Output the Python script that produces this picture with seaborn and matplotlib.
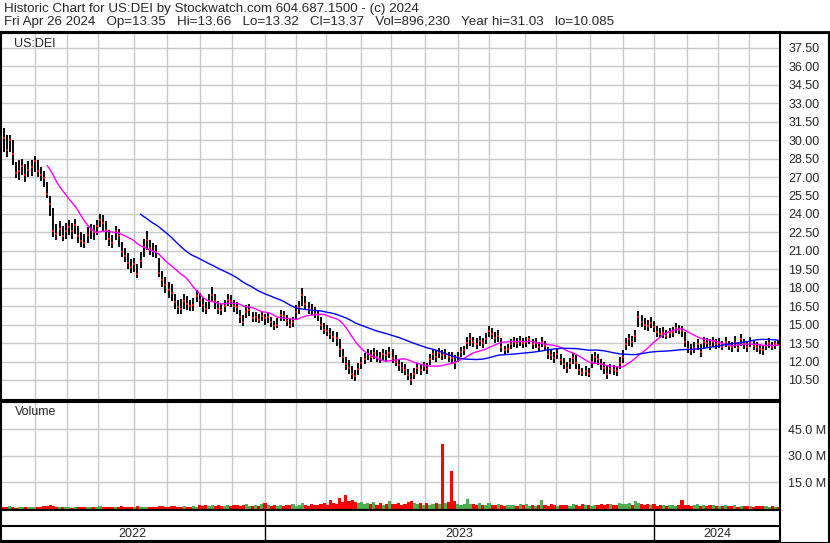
import numpy as np
import pandas as pd
import matplotlib
matplotlib.use('Agg')
import matplotlib.pyplot as plt
import matplotlib.patches as mpatches
import seaborn as sns

# one bar per two trading sessions, May 2022 -> Apr 26 2024
close = [30.2, 29.2, 30.0, 28.9, 27.3, 27.5, 27.9, 27.2, 27.6, 27.8,
         28.3, 27.5, 27.2, 26.9, 25.6, 24.8, 22.6, 22.4, 22.8, 22.2,
         22.6, 22.9, 22.6, 23.1, 22.2, 21.8, 21.6, 22.3, 22.7, 22.5,
         23.0, 23.5, 23.3, 22.7, 22.0, 21.6, 22.6, 22.2, 20.9, 20.6,
         20.0, 19.7, 19.9, 19.1, 20.2, 21.3, 21.9, 21.2, 21.0, 20.9,
         19.2, 18.6, 18.2, 17.8, 17.6, 16.8, 16.4, 16.3, 16.9, 16.7,
         16.5, 16.6, 17.3, 17.0, 16.6, 16.3, 16.9, 17.4, 16.9, 16.3,
         16.2, 16.5, 17.0, 16.9, 16.5, 16.4, 15.6, 15.2, 16.0, 16.2,
         15.5, 15.6, 15.4, 15.7, 15.5, 15.6, 15.2, 14.9, 15.0, 15.8,
         15.7, 15.3, 15.0, 15.2, 16.0, 16.4, 17.4, 16.7, 16.3, 16.2,
         15.9, 15.8, 15.0, 14.6, 14.5, 14.2, 14.0, 13.9, 13.0, 12.4,
         11.8, 11.5, 11.0, 10.8, 11.4, 11.9, 12.2, 12.6, 12.4, 12.7,
         12.4, 12.3, 12.6, 12.5, 12.7, 12.3, 12.0, 11.7, 11.5, 11.3,
         10.9, 10.5, 11.0, 11.5, 11.3, 11.6, 11.4, 12.2, 12.6, 12.4,
         12.7, 12.5, 12.6, 12.4, 12.3, 11.9, 12.4, 12.8, 12.9, 13.5,
         13.8, 13.6, 13.4, 13.7, 13.5, 13.8, 14.5, 14.2, 13.9, 14.1,
         13.2, 12.9, 13.0, 13.4, 13.6, 13.5, 13.7, 13.5, 13.6, 13.8,
         13.4, 13.5, 13.2, 13.6, 13.3, 12.6, 12.5, 12.3, 12.6, 12.1,
         11.8, 11.5, 11.9, 12.3, 11.9, 11.3, 11.1, 11.2, 11.0, 12.0,
         12.4, 12.2, 11.8, 11.5, 11.0, 11.4, 11.3, 11.2, 11.9, 12.4,
         13.4, 13.8, 13.6, 14.1, 15.6, 15.2, 15.0, 14.9, 15.1, 14.8,
         14.4, 14.2, 14.3, 14.1, 14.3, 14.4, 14.7, 14.6, 14.5, 13.6,
         13.0, 12.9, 13.1, 13.4, 12.8, 13.6, 13.5, 13.3, 13.6, 13.4,
         13.5, 13.2, 13.6, 13.3, 13.2, 13.5, 13.1, 13.8, 13.4, 13.2,
         13.6, 13.3, 13.2, 13.0, 12.9, 13.3, 13.5, 13.2, 13.4, 13.37]

high = [31.0, 30.4, 30.4, 30.0, 28.2, 28.4, 28.5, 28.1, 28.3, 28.4,
        28.7, 28.4, 27.8, 27.5, 26.6, 25.5, 24.5, 23.2, 23.4, 23.0,
        23.3, 23.5, 23.3, 23.6, 23.0, 22.5, 22.4, 22.9, 23.2, 23.1,
        23.5, 24.0, 23.9, 23.4, 22.7, 22.3, 23.0, 22.8, 21.7, 21.2,
        20.8, 20.3, 20.4, 19.9, 20.9, 22.0, 22.6, 21.9, 21.6, 21.5,
        20.4, 19.4, 18.9, 18.5, 18.3, 17.5, 17.0, 17.1, 17.5, 17.3,
        17.0, 17.2, 17.8, 17.6, 17.2, 16.8, 17.5, 18.1, 17.5, 16.9,
        16.7, 17.0, 17.5, 17.4, 17.0, 16.8, 16.2, 15.8, 16.6, 16.7,
        16.0, 16.0, 15.9, 16.1, 15.9, 16.0, 15.6, 15.3, 15.5, 16.2,
        16.1, 15.8, 15.5, 15.6, 16.6, 16.9, 18.0, 17.3, 16.8, 16.7,
        16.4, 16.2, 15.6, 15.1, 15.0, 14.7, 14.5, 14.4, 13.8, 13.0,
        12.4, 12.1, 11.6, 11.3, 11.9, 12.4, 12.7, 13.0, 12.9, 13.1,
        12.9, 12.8, 13.0, 12.9, 13.2, 13.0, 12.5, 12.1, 12.0, 11.8,
        11.4, 11.1, 11.5, 11.9, 11.8, 12.0, 11.9, 12.6, 12.9, 12.9,
        13.1, 12.9, 13.0, 12.8, 12.8, 12.5, 12.8, 13.2, 13.3, 14.0,
        14.3, 14.0, 13.9, 14.1, 13.9, 14.3, 14.9, 14.7, 14.4, 14.6,
        13.9, 13.3, 13.4, 13.8, 14.0, 13.9, 14.1, 13.9, 14.0, 14.1,
        13.8, 13.9, 13.6, 14.0, 13.7, 13.2, 12.9, 12.8, 13.0, 12.6,
        12.3, 12.0, 12.3, 12.7, 12.5, 11.8, 11.5, 11.6, 11.5, 12.6,
        12.8, 12.6, 12.2, 12.0, 11.6, 11.8, 11.7, 11.6, 12.4, 12.9,
        13.9, 14.2, 14.1, 14.6, 16.1, 15.8, 15.5, 15.4, 15.6, 15.3,
        14.9, 14.7, 14.8, 14.6, 14.7, 14.8, 15.1, 15.0, 14.9, 14.4,
        13.7, 13.4, 13.6, 13.8, 13.4, 14.0, 13.9, 13.8, 14.0, 13.8,
        13.9, 13.7, 14.0, 13.7, 13.6, 14.1, 13.6, 14.2, 13.8, 13.7,
        14.0, 13.7, 13.6, 13.4, 13.3, 13.7, 13.9, 13.6, 13.7, 13.66]

low = [29.0, 28.6, 29.0, 28.0, 26.9, 26.8, 27.2, 26.6, 27.0, 27.1,
       27.4, 27.0, 26.7, 26.2, 25.3, 23.8, 22.1, 21.9, 22.2, 21.8,
       22.0, 22.3, 22.0, 22.4, 21.6, 21.3, 21.2, 21.6, 22.0, 21.9,
       22.3, 22.9, 22.6, 21.9, 21.4, 21.2, 21.9, 21.3, 20.5, 20.1,
       19.5, 19.2, 19.3, 18.8, 19.6, 20.5, 21.1, 20.7, 20.5, 20.4,
       18.9, 18.1, 17.6, 17.2, 16.9, 16.3, 15.9, 15.9, 16.3, 16.2,
       16.1, 16.1, 16.8, 16.4, 16.0, 15.9, 16.3, 16.9, 16.3, 15.9,
       15.8, 16.0, 16.5, 16.4, 16.0, 15.9, 15.1, 14.9, 15.5, 15.7,
       15.2, 15.2, 15.1, 15.3, 15.0, 15.1, 14.8, 14.6, 14.7, 15.3,
       15.3, 14.9, 14.7, 14.8, 15.4, 15.9, 16.5, 16.2, 15.9, 15.8,
       15.5, 15.3, 14.6, 14.2, 14.1, 13.8, 13.6, 13.3, 12.4, 11.9,
       11.3, 11.0, 10.6, 10.4, 10.9, 11.4, 11.8, 12.1, 12.0, 12.2,
       12.0, 11.9, 12.1, 12.0, 12.3, 11.9, 11.6, 11.2, 11.1, 10.9,
       10.5, 10.1, 10.6, 11.0, 10.9, 11.2, 11.0, 11.7, 12.1, 12.0,
       12.3, 12.1, 12.2, 12.0, 11.8, 11.4, 12.0, 12.4, 12.5, 13.0,
       13.3, 13.2, 13.0, 13.3, 13.1, 13.4, 14.0, 13.8, 13.5, 13.6,
       12.8, 12.6, 12.7, 13.0, 13.2, 13.1, 13.3, 13.1, 13.2, 13.4,
       13.0, 13.1, 12.8, 13.2, 12.9, 12.2, 12.1, 11.9, 12.2, 11.7,
       11.4, 11.1, 11.4, 11.8, 11.4, 10.9, 10.8, 10.8, 10.7, 11.5,
       11.9, 11.7, 11.3, 11.0, 10.6, 11.0, 10.9, 10.8, 11.4, 11.9,
       12.9, 13.3, 13.2, 13.6, 14.8, 14.8, 14.6, 14.5, 14.7, 14.4,
       14.0, 13.9, 13.9, 13.8, 13.9, 14.0, 14.3, 14.2, 14.0, 13.2,
       12.7, 12.5, 12.7, 12.9, 12.4, 13.1, 13.1, 12.9, 13.2, 13.0,
       13.1, 12.9, 13.2, 12.9, 12.8, 13.1, 12.8, 13.3, 13.0, 12.8,
       13.2, 12.9, 12.8, 12.6, 12.5, 12.9, 13.1, 12.9, 13.0, 13.32]

volume_m = [1.2, 0.9, 1.5, 1.1, 0.8, 1.3, 1.0, 0.9, 1.4, 1.1,
            0.9, 1.2, 1.0, 1.5, 1.8, 2.4, 1.9, 1.3, 1.1, 1.0,
            0.9, 1.2, 0.8, 1.0, 1.3, 1.1, 0.9, 1.2, 1.0, 1.4,
            1.1, 1.5, 1.2, 0.9, 1.3, 1.0, 1.2, 0.9, 1.6, 1.4,
            1.2, 1.0, 1.3, 1.5, 1.1, 1.2, 1.0, 1.4, 1.1, 1.3,
            1.9, 1.6, 1.4, 1.2, 1.5, 1.8, 1.3, 1.2, 1.7, 1.4,
            1.2, 1.5, 1.3, 2.0, 1.6, 2.3, 1.8, 2.5, 1.9, 2.1,
            1.6, 1.9, 2.2, 1.7, 2.0, 2.4, 1.8, 2.1, 2.6, 1.5,
            1.8, 2.2, 1.6, 2.9, 3.4, 2.0, 1.7, 2.3, 1.9, 2.2,
            1.8, 2.4, 2.1, 2.8, 1.9, 2.5, 3.2, 2.2, 1.9, 2.6,
            2.3, 2.0, 2.7, 3.1, 2.5, 4.8, 3.5, 3.0, 6.2, 4.1,
            7.6, 4.5, 5.1, 4.0, 3.6, 3.9, 2.8, 3.4, 2.6, 3.8,
            2.5, 3.1, 2.4, 2.9, 4.3, 3.0, 2.6, 3.5, 2.2, 2.8,
            3.9, 4.4, 3.2, 2.7, 3.6, 2.5, 3.3, 2.4, 2.9, 3.4,
            2.8, 36.6, 3.1, 4.2, 21.2, 4.6, 2.7, 2.2, 3.0, 5.9,
            2.6, 2.9, 2.3, 3.4, 2.1, 2.5, 3.2, 2.4, 2.0, 2.6,
            2.2, 1.9, 2.5, 2.1, 2.4, 1.8, 3.0, 2.2, 2.6, 1.9,
            2.1, 1.7, 2.3, 4.8, 2.0, 1.9, 2.7, 2.2, 1.8, 2.5,
            2.0, 2.4, 1.9, 2.8, 2.2, 1.7, 2.6, 2.0, 2.3, 1.8,
            2.5, 2.2, 2.9, 2.1, 2.6, 3.0, 2.4, 2.2, 3.3, 2.8,
            2.6, 3.4, 2.5, 4.5, 3.1, 2.7, 2.3, 2.9, 2.2, 2.6,
            1.8, 2.3, 2.0, 1.9, 2.5, 2.1, 1.7, 2.2, 4.9, 2.0,
            2.4, 1.8, 2.1, 2.7, 1.9, 2.3, 1.6, 2.0, 2.2, 1.7,
            1.9, 1.5, 2.1, 1.8, 1.6, 2.0, 1.4, 1.7, 1.9, 1.5,
            1.8, 1.4, 1.6, 1.9, 1.5, 1.7, 1.3, 1.6, 1.4, 0.9]

price_ticks = [10.5, 12.0, 13.5, 15.0, 16.5, 18.0, 19.5, 21.0, 22.5, 24.0, 25.5, 27.0,
               28.5, 30.0, 31.5, 33.0, 34.5, 36.0, 37.5]
vol_ticks = [15, 30, 45]

holidays = ['2022-05-30', '2022-06-20', '2022-07-04', '2022-09-05', '2022-11-24', '2022-12-26',
            '2023-01-02', '2023-01-16', '2023-02-20', '2023-04-07', '2023-05-29', '2023-06-19',
            '2023-07-04', '2023-09-04', '2023-11-23', '2023-12-25',
            '2024-01-01', '2024-01-15', '2024-02-19', '2024-03-29']

title1 = 'Historic Chart for US:DEI by Stockwatch.com 604.687.1500 - (c) 2024'
title2 = ('Fri Apr 26 2024   Op=13.35   Hi=13.66   Lo=13.32   Cl=13.37   '
          'Vol=896,230   Year hi=31.03   lo=10.085')

sessions = pd.bdate_range('2022-05-02', '2024-04-26', freq='C', holidays=holidays)
bar_pos = np.arange(len(sessions) - 1, -1, -2)[::-1]

df = pd.DataFrame({'pos': bar_pos, 'close': close, 'high': high, 'low': low, 'vol': volume_m})
df['ma_fast'] = df['close'].rolling(15).mean()
df['ma_slow'] = df['close'].rolling(45).mean()
chg = df['close'].diff().fillna(-1)
df['vcolor'] = np.where(chg > 0, '#4CB050', np.where(chg < 0, '#FF0000', '#A8A8A8'))

months = pd.Series(sessions.to_period('M'))
month_starts = np.where(months.ne(months.shift()))[0][1:]
years = pd.Series(sessions.year)
year_starts = np.where(years.ne(years.shift()))[0][1:]

sns.set_style('white')
plt.rcParams['font.family'] = ['Liberation Sans', 'DejaVu Sans']

W, H = 830, 543
fig = plt.figure(figsize=(W / 100, H / 100), dpi=100)
xlim = (-1.3, 500.0)
right = 780 / W
grid_c = '#C8C8C8'

fig.text(4 / W, 1 - 9 / H, title1, fontsize=9.6, va='center', ha='left')
fig.text(4 / W, 1 - 22 / H, title2, fontsize=9.6, va='center', ha='left')

# price panel
ax = fig.add_axes([0, 1 - 400 / H, right, 368 / H])
for m in month_starts:
    ax.axvline(m, color=grid_c, lw=1, zorder=0)
for t in price_ticks:
    ax.axhline(t, color=grid_c, lw=1, zorder=0)
ax.vlines(df['pos'], df['low'], df['high'], color='black', lw=1.35, zorder=2)
ax.plot(df['pos'], df['close'], 's', color='red', ms=1.8, mew=0, zorder=3)
sns.lineplot(data=df, x='pos', y='ma_fast', color='#FF00FF', lw=1, ax=ax, zorder=4)
sns.lineplot(data=df, x='pos', y='ma_slow', color='#0000FF', lw=1, ax=ax, zorder=4)
ax.set_xlim(*xlim)
ax.set_ylim(8.87, 38.8)
ax.yaxis.tick_right()
ax.set_yticks(price_ticks)
ax.set_yticklabels([f'{t:.2f}' for t in price_ticks], fontsize=9)
ax.set_xticks([])
ax.tick_params(axis='y', length=0, pad=6)
ax.set_xlabel('')
ax.set_ylabel('')
ax.text(8, 38.3, 'US:DEI', fontsize=9, va='top', ha='left')
for s in ax.spines.values():
    s.set_linewidth(1.5)
    s.set_color('black')

# volume panel
axv = fig.add_axes([0, 1 - 510 / H, right, 108 / H])
for m in month_starts:
    axv.axvline(m, color=grid_c, lw=1, zorder=0)
for t in vol_ticks:
    axv.axhline(t, color=grid_c, lw=1, zorder=0)
axv.bar(df['pos'], df['vol'], width=2.0, color=df['vcolor'], linewidth=0, zorder=2)
axv.set_xlim(*xlim)
axv.set_ylim(-0.56, 60.2)
axv.yaxis.tick_right()
axv.set_yticks(vol_ticks)
axv.set_yticklabels([f'{t:.1f} M' for t in vol_ticks], fontsize=9)
axv.set_xticks([])
axv.tick_params(axis='y', length=0, pad=6)
axv.text(8, 58, 'Volume', fontsize=9, va='top', ha='left')
for s in axv.spines.values():
    s.set_linewidth(1.5)
    s.set_color('black')

# date strip
axd = fig.add_axes([0, 1 - 541 / H, right, 31 / H])
axd.set_xlim(*xlim)
axd.set_ylim(0, 1)
axd.axhline(0.5, color='black', lw=1.5)
for y0 in year_starts:
    axd.axvline(y0, color='black', lw=1)
edges = [xlim[0]] + list(year_starts) + [xlim[1]]
for i in range(len(edges) - 1):
    yr = sessions[0].year + i
    axd.text((edges[i] + edges[i + 1]) / 2, 0.22, str(yr), fontsize=9, ha='center', va='center')
axd.set_xticks([])
axd.set_yticks([])
for s in axd.spines.values():
    s.set_linewidth(1.5)
    s.set_color('black')

# outer frame below the header
fig.add_artist(plt.Line2D([0, 1], [1 - 32 / H, 1 - 32 / H], transform=fig.transFigure,
                          color='black', lw=2))
fig.add_artist(mpatches.Rectangle((0.5 / W, 0.5 / H), 1 - 1.5 / W, 1 - 33 / H,
                                  transform=fig.transFigure, fill=False,
                                  edgecolor='black', lw=1.5))

fig.savefig('out.png', dpi=100)
